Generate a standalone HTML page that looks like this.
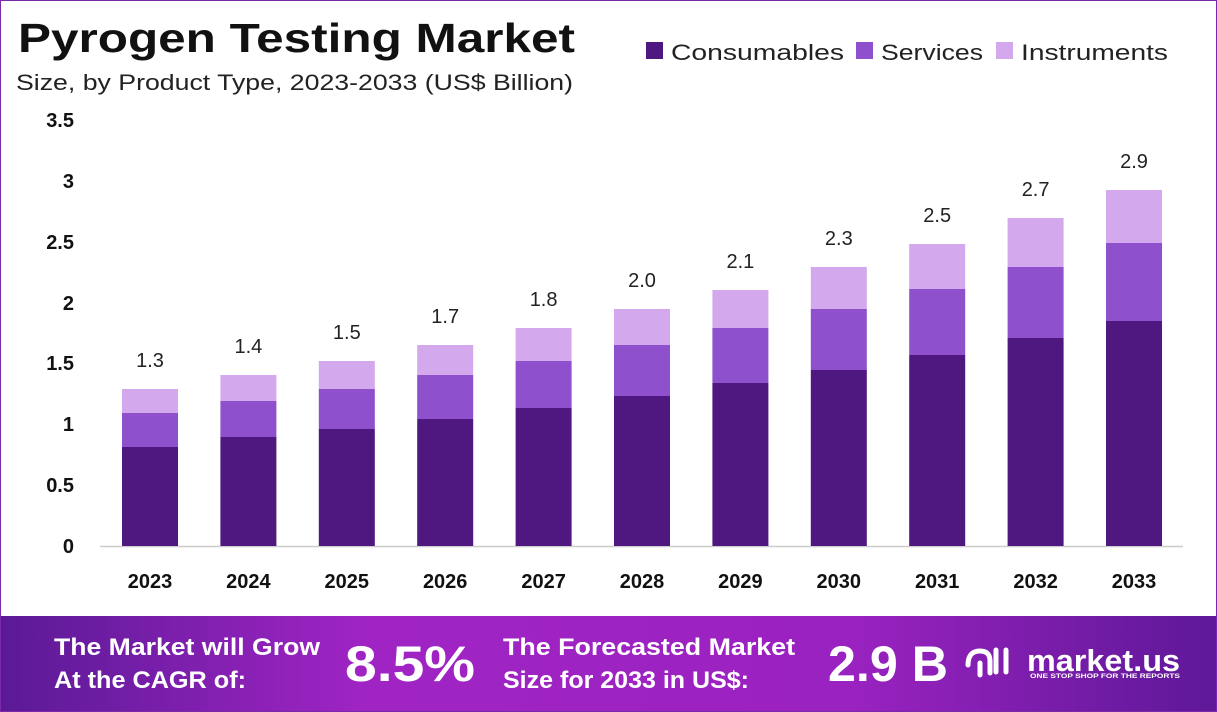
<!DOCTYPE html>
<html><head><meta charset="utf-8"><style>
body{margin:0;width:1217px;height:712px;overflow:hidden;background:#fff;font-family:"Liberation Sans",sans-serif;}
.wrap{position:absolute;left:0;top:0;width:1215px;height:710px;border:1px solid #7a2aa8;}
</style></head><body>
<div class="wrap"></div>
<svg width="1217" height="712" style="position:absolute;left:0;top:0" font-family="Liberation Sans, sans-serif">
<defs><linearGradient id="g" x1="0" x2="1" y1="0" y2="0">
<stop offset="0" stop-color="#5a1a96"/><stop offset="0.3" stop-color="#a024c4"/><stop offset="0.7" stop-color="#9a22c0"/><stop offset="1" stop-color="#5e1898"/></linearGradient></defs>
<text x="18" y="52" font-size="41" font-weight="bold" fill="#111" textLength="557" lengthAdjust="spacingAndGlyphs">Pyrogen Testing Market</text>
<text x="16" y="90" font-size="22" fill="#222" textLength="557" lengthAdjust="spacingAndGlyphs">Size, by Product Type, 2023-2033 (US$ Billion)</text>
<rect x="646" y="42" width="17" height="17" fill="#4f1780"/><text x="671" y="60" font-size="22" fill="#222" textLength="173" lengthAdjust="spacingAndGlyphs">Consumables</text>
<rect x="856" y="42" width="17" height="17" fill="#8e50cc"/><text x="881" y="60" font-size="22" fill="#222" textLength="102" lengthAdjust="spacingAndGlyphs">Services</text>
<rect x="996" y="42" width="17" height="17" fill="#d4a8ec"/><text x="1021" y="60" font-size="22" fill="#222" textLength="147" lengthAdjust="spacingAndGlyphs">Instruments</text>
<g font-size="20" font-weight="bold" fill="#111" text-anchor="end">
<text x="74" y="553">0</text><text x="74" y="492">0.5</text><text x="74" y="431">1</text><text x="74" y="370">1.5</text><text x="74" y="310">2</text><text x="74" y="249">2.5</text><text x="74" y="188">3</text><text x="74" y="127">3.5</text>
</g>
<line x1="100" y1="546.5" x2="1183" y2="546.5" stroke="#ccc" stroke-width="1.5"/>
<g id="bars"></g>
<rect x="1" y="616" width="1215" height="95" fill="url(#g)"/>
<g fill="#fff" font-weight="bold">
<text x="54" y="655" font-size="24" textLength="266" lengthAdjust="spacingAndGlyphs">The Market will Grow</text>
<text x="54" y="688" font-size="24" textLength="192" lengthAdjust="spacingAndGlyphs">At the CAGR of:</text>
<text x="345" y="681" font-size="50" textLength="130" lengthAdjust="spacingAndGlyphs">8.5%</text>
<text x="503" y="655" font-size="24" textLength="292" lengthAdjust="spacingAndGlyphs">The Forecasted Market</text>
<text x="503" y="688" font-size="24" textLength="246" lengthAdjust="spacingAndGlyphs">Size for 2033 in US$:</text>
<text x="828" y="681" font-size="50" textLength="120" lengthAdjust="spacingAndGlyphs">2.9 B</text>
<text x="1027" y="671" font-size="31" textLength="153" lengthAdjust="spacingAndGlyphs">market.us</text>
<text x="1030" y="678" font-size="6" textLength="150" lengthAdjust="spacingAndGlyphs">ONE STOP SHOP FOR THE REPORTS</text>
<path d="M968 665 q0 -14 12 -14 q10 0 10 10 v12 M996 650 v22 M1006 650 v22 M980 663 v12" stroke="#fff" stroke-width="5" fill="none" stroke-linecap="round"/>
</g>
</svg>
<script>
var d=[[447,413,389,"1.3"],[437,401,375,"1.4"],[429,389,361,"1.5"],[419,375,345,"1.7"],[408,361,328,"1.8"],[396,345,309,"2.0"],[383,328,290,"2.1"],[370,309,267,"2.3"],[355,289,244,"2.5"],[338,267,218,"2.7"],[321,243,190,"2.9"]];
var s="";
d.forEach(function(r,i){var x=122+i*98.4,c=x+28;
s+='<rect x="'+x+'" y="'+r[0]+'" width="56" height="'+(546-r[0])+'" fill="#4f1780"/>';
s+='<rect x="'+x+'" y="'+r[1]+'" width="56" height="'+(r[0]-r[1])+'" fill="#8e50cc"/>';
s+='<rect x="'+x+'" y="'+r[2]+'" width="56" height="'+(r[1]-r[2])+'" fill="#d4a8ec"/>';
s+='<text x="'+c+'" y="'+(r[2]-22)+'" font-size="20" text-anchor="middle" fill="#222">'+r[3]+'</text>';
s+='<text x="'+c+'" y="588" font-size="20" font-weight="bold" text-anchor="middle" fill="#111">'+(2023+i)+'</text>';});
document.getElementById("bars").innerHTML=s;
</script>
</body></html>
